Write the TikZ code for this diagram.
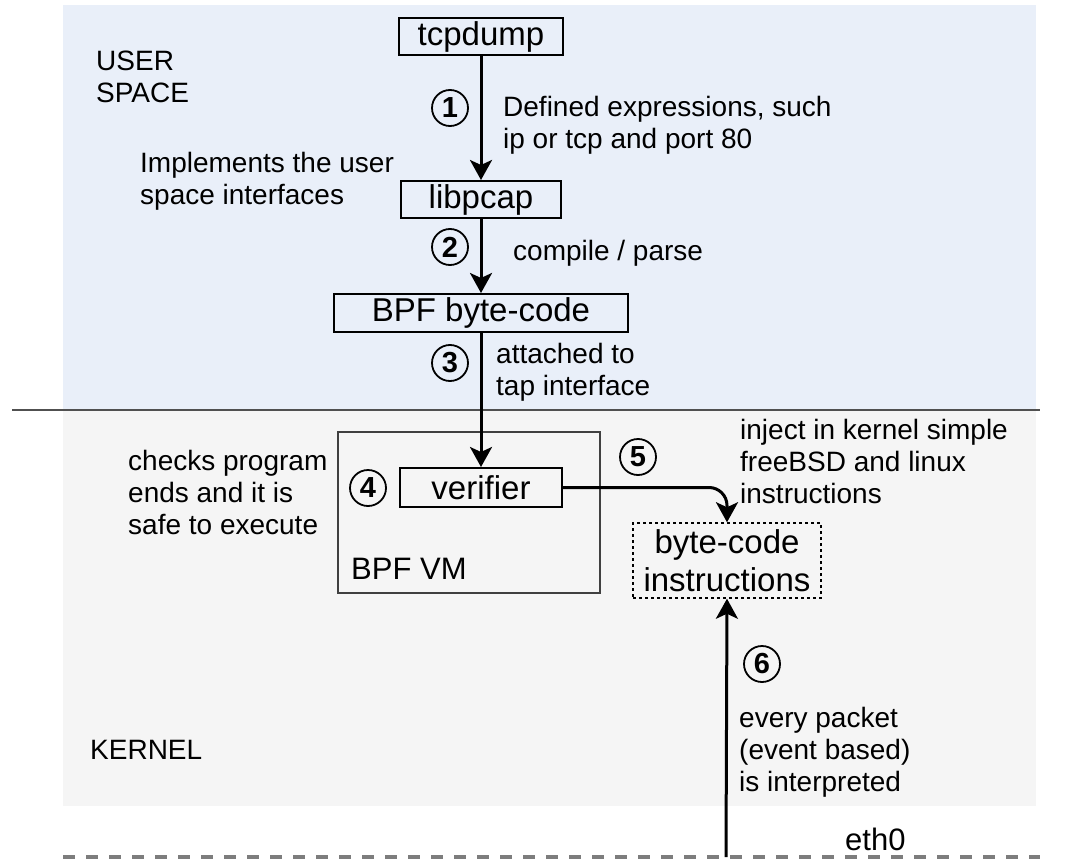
\documentclass[tikz,border=0pt]{standalone}
\usepackage{fontspec}
\setmainfont{Liberation Sans}
\usetikzlibrary{arrows.meta}
\definecolor{userbg}{RGB}{233,239,249}
\definecolor{kernbg}{RGB}{245,245,245}
\definecolor{sepline}{RGB}{80,80,80}
\definecolor{wire}{RGB}{125,125,125}
\tikzset{
  box/.style={draw=black, line width=2pt, inner sep=0pt,
    font=\fontsize{33}{38}\selectfont},
  lbl/.style={anchor=north west, inner sep=0pt, align=left,
    font=\fontsize{28}{32}\selectfont},
  num/.style={circle, draw=black, line width=1.8pt, inner sep=0pt,
    minimum size=36pt, font=\bfseries\fontsize{29}{29}\selectfont},
  flow/.style={draw=black, line width=3pt,
    -{Stealth[length=20pt, width=22pt, inset=5pt]}},
}
\begin{document}
\begin{tikzpicture}[x=1pt, y=-1pt]
  \useasboundingbox (0,0) rectangle (1066,859);

  % user space and kernel areas
  \fill[userbg] (63,5) rectangle (1036,410);
  \fill[kernbg] (63,410) rectangle (1036,806);
  \draw[sepline, line width=1.5pt] (12,410) -- (1040,410);

  % network wire
  \draw[wire, line width=4pt, dash pattern=on 12pt off 11pt] (63,857) -- (1040,857);
  \coordinate (tap) at (726,857);

  % BPF virtual machine container
  \node (vm) [draw=black!75, line width=1.8pt, minimum width=262pt, minimum height=161pt,
    inner sep=0pt] at (469,512.5) {};

  % program path boxes
  \node (tcpdump) [box, minimum width=164pt, minimum height=37pt] at (481,36.5) {tcpdump};
  \node (libpcap) [box, minimum width=160pt, minimum height=37pt] at (481,199.5) {libpcap};
  \node (bytecode) [box, minimum width=294pt, minimum height=38pt] at (481,313) {BPF byte-code};
  \node (verifier) [box, minimum width=162pt, minimum height=39pt] at (481,487.5) {verifier};
  \node (instr) [box, dashed, line width=1.5pt, minimum width=188pt, minimum height=75pt,
    align=center, font=\fontsize{33}{38}\selectfont] at (727,560.5) {byte-code\\instructions};

  % connectors
  \draw[flow] (tcpdump) -- (libpcap);
  \draw[flow] (libpcap) -- (bytecode);
  \draw[flow] (bytecode) -- (verifier);
  \draw[flow, rounded corners=18pt] (verifier.east) -| (instr.north);
  \draw[flow] (tap) -- (instr.south);

  % step numbers
  \node (n1) [num] at (450,108) {1};
  \node (n2) [num] at (450,247) {2};
  \node (n3) [num] at (450,363) {3};
  \node (n4) [num] at (368,488) {4};
  \node (n5) [num] at (638,457) {5};
  \node (n6) [num] at (762,664) {6};

  % labels
  \node (user) [lbl] at (96,51) {USER\\SPACE};
  \node (kernel) [lbl] at (90,740) {KERNEL};
  \node (l1) [lbl] at (503,96) {Defined expressions, such\\ip or tcp and port 80};
  \node (limpl) [lbl] at (140,152) {Implements the user\\space interfaces};
  \node (l2) [lbl] at (513,240) {compile / parse};
  \node (l3) [lbl] at (496,343) {attached to\\tap interface};
  \node (l5) [lbl] at (740,419) {inject in kernel simple\\freeBSD and linux\\instructions};
  \node (l4) [lbl] at (128,450) {checks program\\ends and it is\\safe to execute};
  \node (vmname) [lbl, font=\fontsize{31}{36}\selectfont] at (351,558) {BPF VM};
  \node (l6) [lbl] at (739,707) {every packet\\(event based)\\is interpreted};
  \node (eth) [lbl, font=\fontsize{31}{36}\selectfont] at (845,828) {eth0};
\end{tikzpicture}
\end{document}
